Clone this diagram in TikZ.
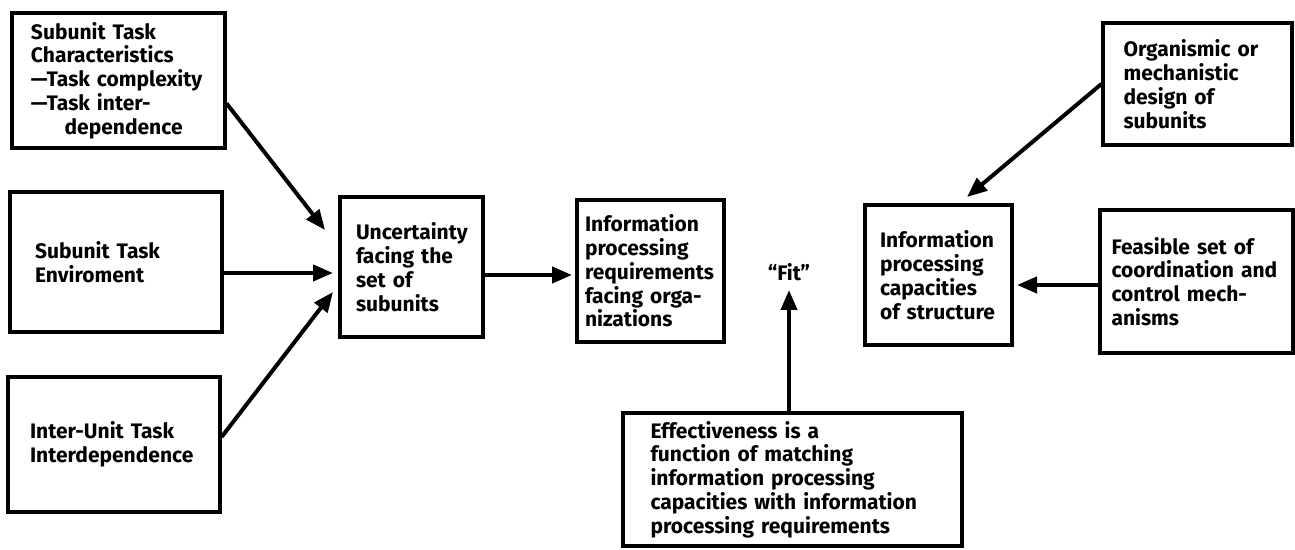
\documentclass[tikz,border=0pt]{standalone}
\usepackage{fontspec}
\setmainfont{Fira Sans}
\usetikzlibrary{arrows.meta}
\begin{document}
\begin{tikzpicture}[x=0.5pt,y=-0.5pt,
  box/.style={draw, line width=1.6pt, align=left, font=\fontsize{10.5}{11.9}\selectfont\bfseries, inner ysep=0pt, anchor=center},
  arr/.style={line width=2pt, -{Triangle[length=10pt,width=8pt]}},
  lbl/.style={font=\fontsize{10.5}{12}\selectfont\bfseries, inner sep=0pt}]
\useasboundingbox (0,0) rectangle (1295,550);
% left column
\node[box, minimum width=106.5pt, minimum height=67.5pt, text width=87.5pt, inner xsep=9.5pt] (A) at (118.5,80.5)
  {Subunit Task\\Characteristics\\---Task complexity\\---Task inter-\\\hspace*{1.6em}dependence};
\node[box, minimum width=106pt, minimum height=70pt, text width=81pt, inner xsep=12.5pt] (B) at (116,262)
  {Subunit Task\\Enviroment};
\node[box, minimum width=106pt, minimum height=67.5pt, text width=84pt, inner xsep=11pt] (C) at (114,444.5)
  {Inter-Unit Task\\Interdependence};
% middle
\node[box, minimum width=71.5pt, minimum height=70pt, text width=55.5pt, inner xsep=8pt] (U) at (411.5,267)
  {Uncertainty\\facing the\\set of\\subunits};
\node[box, minimum width=73.5pt, minimum height=71pt, text width=65.5pt, inner xsep=4pt] (I) at (650.5,271)
  {Information\\processing\\requirements\\facing orga-\\nizations};
\node[lbl] (Fit) at (789,272) {``Fit''};
\node[box, minimum width=169.5pt, minimum height=66.5pt, text width=142pt, inner xsep=13.75pt] (E) at (792.5,479.5)
  {Effectiveness is a\\function of matching\\information processing\\capacities with information\\processing requirements};
% right
\node[box, minimum width=73.5pt, minimum height=70pt, text width=58.5pt, inner xsep=7.5pt] (K) at (938.5,275)
  {Information\\processing\\capacities\\of structure};
\node[box, minimum width=94.5pt, minimum height=61pt, text width=74pt, inner xsep=10.25pt] (O) at (1197.5,84)
  {Organismic or\\mechanistic\\design of\\subunits};
\node[box, minimum width=96.5pt, minimum height=71.5pt, text width=85pt, inner xsep=5.75pt] (F) at (1196.5,281.5)
  {Feasible set of\\coordination and\\control mech-\\anisms};
% arrow tips
\coordinate (ta) at (325,230);
\coordinate (tb) at (333,273);
\coordinate (tc) at (333,292);
\coordinate (tu) at (572,275);
\coordinate (to) at (967,197);
\coordinate (tf) at (1017,285);
\coordinate (te) at (789,290);
% connectors
\draw[arr] (A.-12) -- (ta);
\draw[arr] (B.east |- tb) -- (tb);
\draw[arr] (C.4) -- (tc);
\draw[arr] (U.east |- tu) -- (tu);
\draw[arr] (O.west) -- (to);
\draw[arr] (F.west |- tf) -- (tf);
\draw[arr] (E.north -| te) -- (te);
\end{tikzpicture}
\end{document}
